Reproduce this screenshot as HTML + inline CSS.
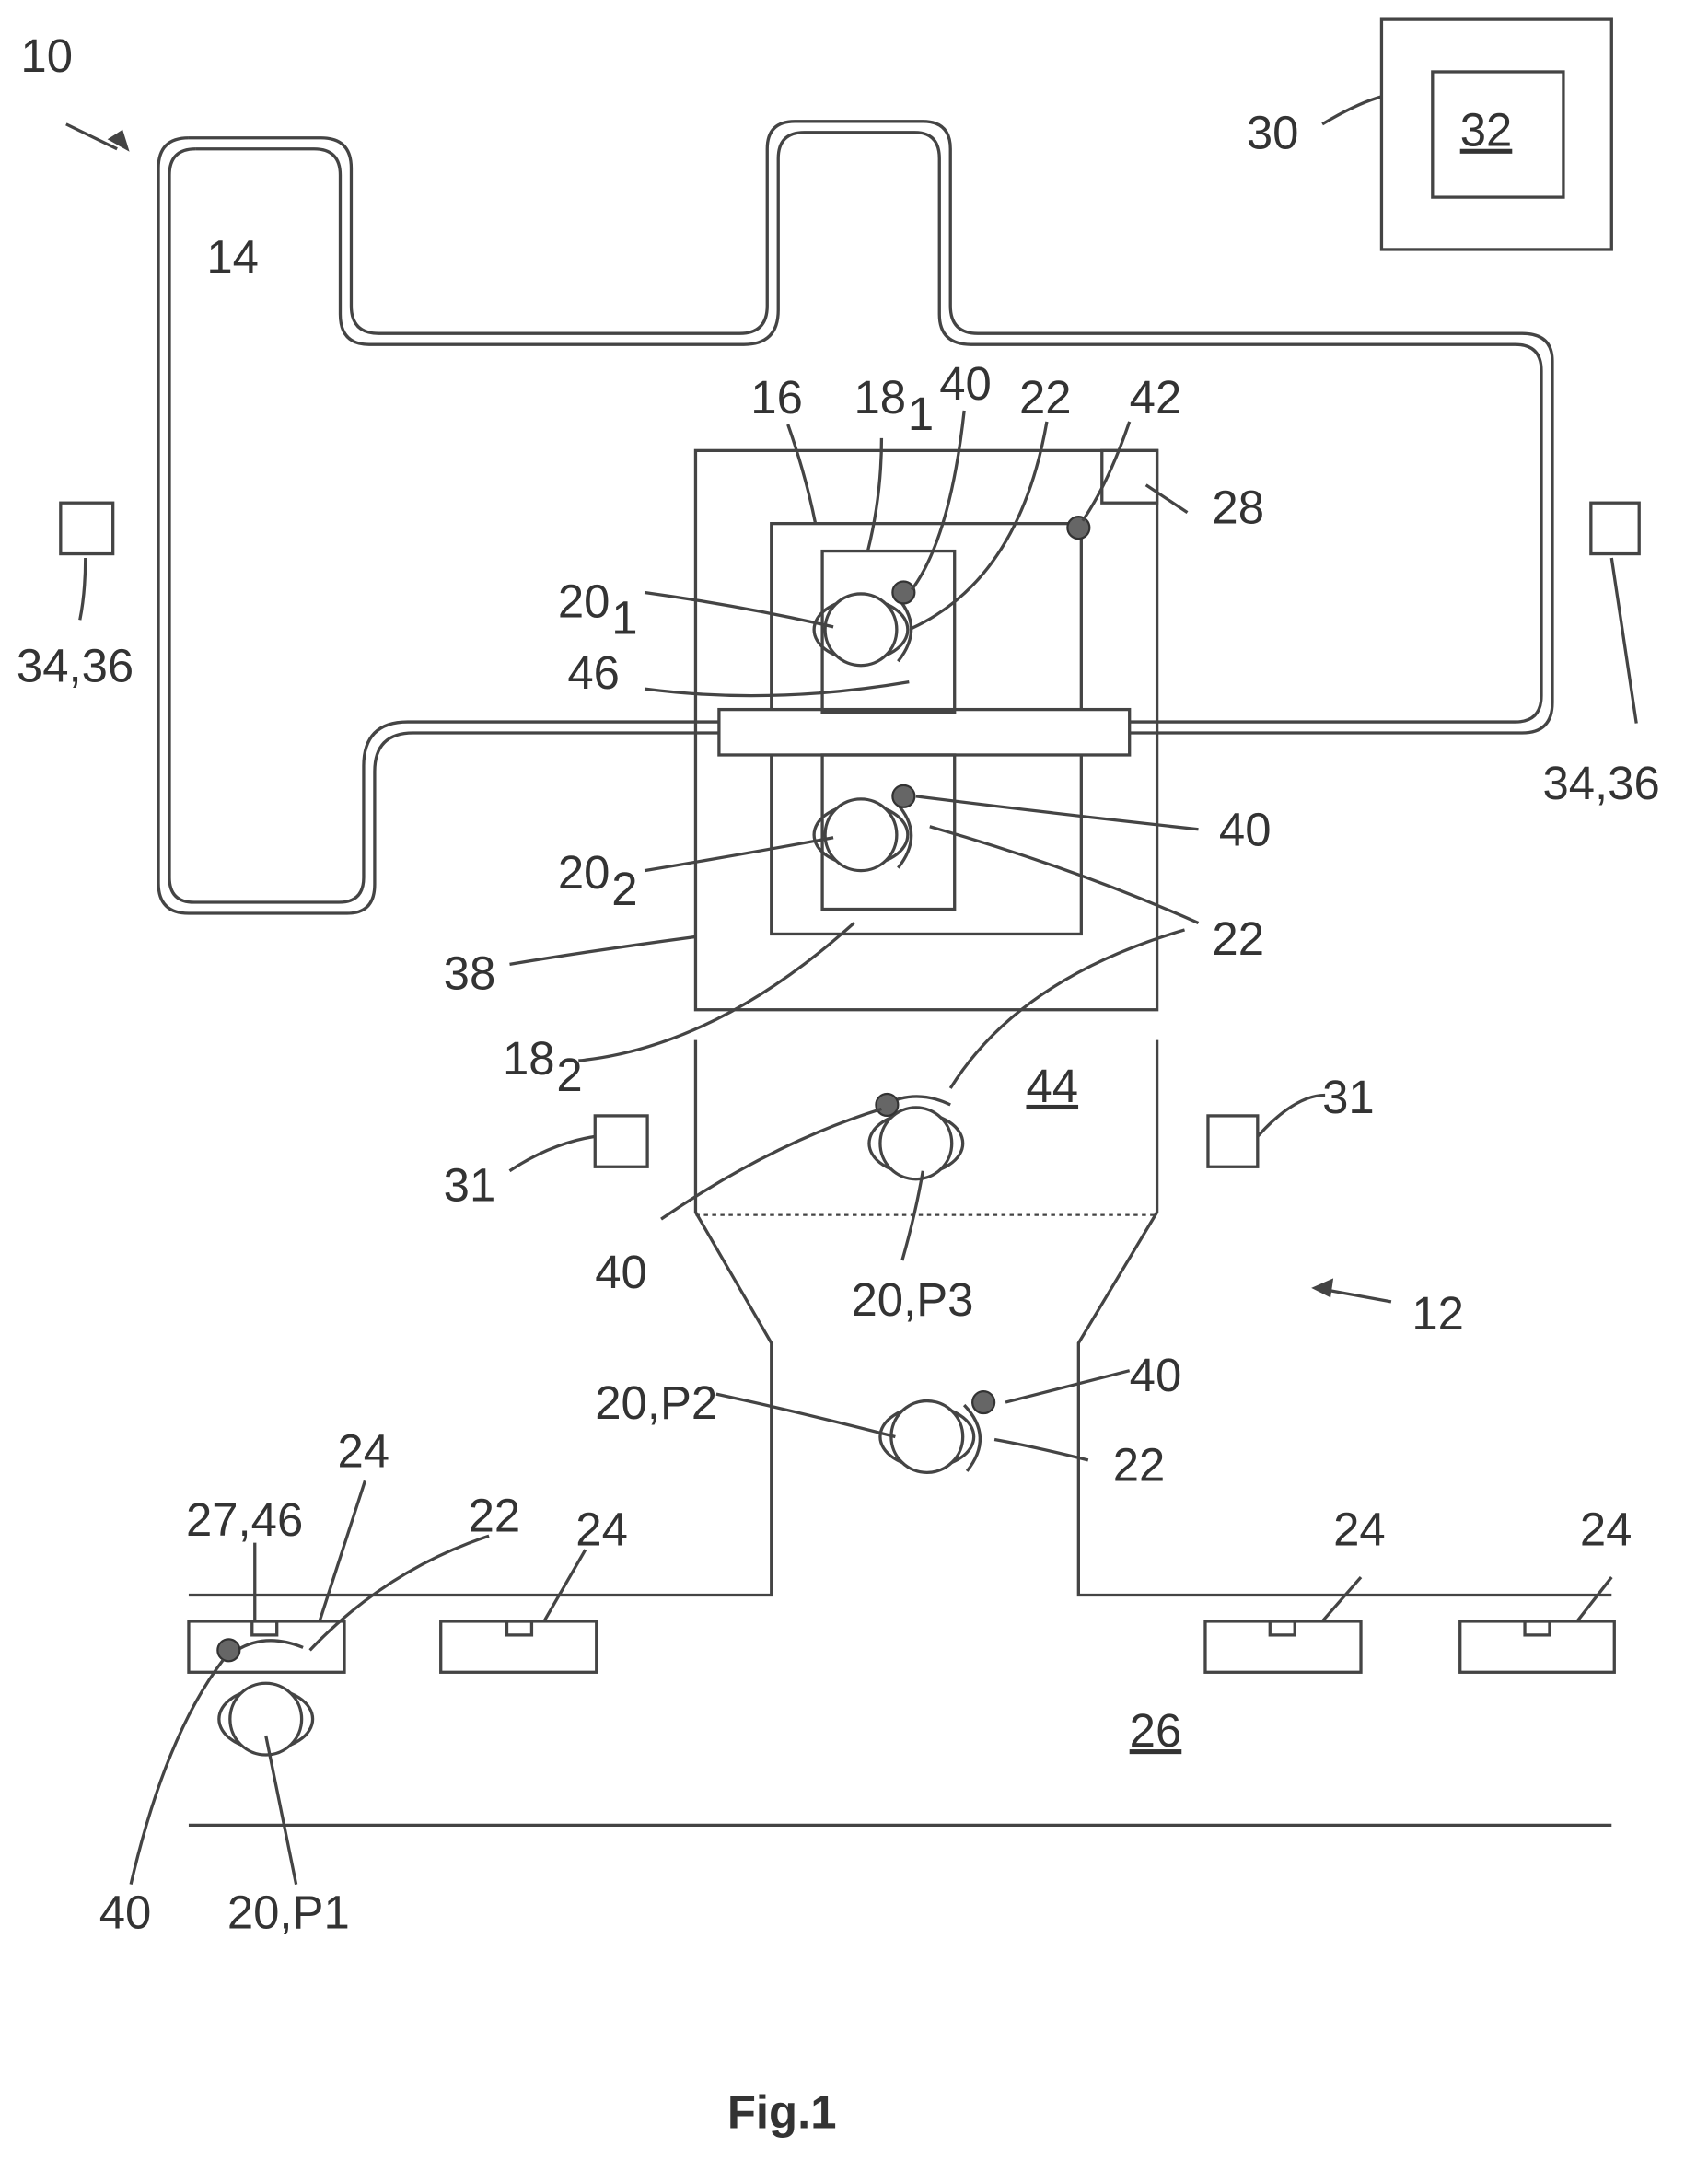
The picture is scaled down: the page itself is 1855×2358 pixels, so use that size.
<!DOCTYPE html>
<html><head><meta charset="utf-8"><style>
html,body{margin:0;padding:0;background:#fff;}
svg{display:block;}
text{font-family:"Liberation Sans",sans-serif;font-size:34px;fill:#333;}
.s{fill:none;stroke:#444;stroke-width:2.2;}
</style></head><body>
<svg width="1855" height="2358" viewBox="0 0 1240 1576" xmlns="http://www.w3.org/2000/svg">
<defs>
<g id="person">
<ellipse cx="0" cy="0" rx="34" ry="22" class="s"/>
<circle cx="0" cy="0" r="26" fill="#fff" stroke="#444" stroke-width="2.2"/>
</g>
<g id="dot"><circle r="8" fill="#666" stroke="#333" stroke-width="1.5"/></g>
</defs>
<path class="s" d="M137,100 H233 Q255,100 255,122 V222 Q255,242 275,242 H537 Q557,242 557,222 V108 Q557,88 577,88 H670 Q690,88 690,108 V222 Q690,242 710,242 H1105 Q1127,242 1127,262 V510 Q1127,532 1105,532 H820"/>
<path class="s" d="M522,532 H300 Q272,532 272,560 V642 Q272,663 252,663 H137 Q115,663 115,641 V122 Q115,100 137,100"/>
<path class="s" d="M142,108 H228 Q247,108 247,127 V228 Q247,250 268,250 H540 Q565,250 565,225 V115 Q565,96 584,96 H664 Q682,96 682,115 V228 Q682,250 705,250 H1100 Q1119,250 1119,269 V505 Q1119,524 1100,524 H820"/>
<path class="s" d="M522,524 H296 Q264,524 264,556 V637 Q264,655 246,655 H141 Q123,655 123,637 V127 Q123,108 142,108"/>
<rect class="s" x="505" y="327" width="335" height="406"/>
<rect class="s" x="560" y="380" width="225" height="298"/>
<rect x="522" y="515" width="298" height="33" fill="#fff" stroke="#444" stroke-width="2.2"/>
<rect class="s" x="597" y="400" width="96" height="117"/>
<rect class="s" x="597" y="548" width="96" height="112"/>
<rect class="s" x="800" y="327" width="40" height="38"/>
<use href="#dot" x="783" y="383"/>
<path class="s" d="M505,755 V880 L560,975 V1158 H137"/>
<path class="s" d="M840,755 V880 L783,975 V1158 H1170"/>
<line x1="505" y1="882" x2="840" y2="882" stroke="#444" stroke-width="1.5" stroke-dasharray="3,3"/>
<line class="s" x1="137" y1="1325" x2="1170" y2="1325"/>
<g class="s">
<rect x="137" y="1177" width="113" height="37"/><rect x="183" y="1177" width="18" height="10"/>
<rect x="320" y="1177" width="113" height="37"/><rect x="368" y="1177" width="18" height="10"/>
<rect x="875" y="1177" width="113" height="37"/><rect x="922" y="1177" width="18" height="10"/>
<rect x="1060" y="1177" width="112" height="37"/><rect x="1107" y="1177" width="18" height="10"/>
<rect x="432" y="810" width="38" height="37"/><rect x="877" y="810" width="36" height="37"/>
<rect x="44" y="365" width="38" height="37"/><rect x="1155" y="365" width="35" height="37"/>
<rect x="1003" y="14" width="167" height="167"/><rect x="1040" y="52" width="95" height="91"/>
</g>
<use href="#person" x="625" y="457"/><path class="s" d="M650,432 Q672,455 652,480"/><use href="#dot" x="656" y="430"/>
<use href="#person" x="625" y="606"/><path class="s" d="M650,582 Q672,605 652,630"/><use href="#dot" x="656" y="578"/>
<use href="#person" x="665" y="830"/><path class="s" d="M642,802 Q665,790 690,802"/><use href="#dot" x="644" y="802"/>
<use href="#person" x="673" y="1043"/><path class="s" d="M700,1020 Q722,1043 702,1068"/><use href="#dot" x="714" y="1018"/>
<use href="#person" x="193" y="1248"/><path class="s" d="M172,1198 Q193,1185 220,1196"/><use href="#dot" x="166" y="1198"/>
<g class="s" stroke-width="1.8">
<path d="M48,90 L85,108"/>
<path d="M960,90 Q985,75 1003,70"/>
<path d="M862,372 L832,352"/>
<path d="M572,308 Q585,345 592,380"/>
<path d="M640,318 Q640,360 630,400"/>
<path d="M700,298 Q690,390 662,428"/>
<path d="M760,306 Q740,420 662,456"/>
<path d="M820,306 Q805,350 786,378"/>
<path d="M468,430 Q540,440 605,455"/>
<path d="M468,500 Q560,512 660,495"/>
<path d="M468,632 Q540,620 605,608"/>
<path d="M870,602 Q760,590 665,578"/>
<path d="M870,670 Q780,630 675,600"/>
<path d="M860,675 Q740,710 690,790"/>
<path d="M370,700 Q430,690 505,680"/>
<path d="M420,770 Q520,760 620,670"/>
<path d="M370,850 Q400,830 432,825"/>
<path d="M913,825 Q940,795 962,795"/>
<path d="M480,885 Q560,830 640,805"/>
<path d="M655,915 Q665,880 670,850"/>
<path d="M520,1012 Q580,1025 650,1043"/>
<path d="M820,995 L730,1018"/>
<path d="M790,1060 Q750,1050 722,1045"/>
<path d="M265,1075 L232,1177"/>
<path d="M185,1120 L185,1177"/>
<path d="M355,1115 Q280,1140 225,1198"/>
<path d="M425,1125 L395,1177"/>
<path d="M988,1145 L960,1177"/>
<path d="M1170,1145 L1145,1177"/>
<path d="M95,1368 Q120,1260 162,1205"/>
<path d="M215,1368 Q205,1320 193,1260"/>
<path d="M62,405 Q62,430 58,450"/>
<path d="M1170,405 Q1180,470 1188,525"/>
<path d="M1010,945 L955,935"/>
</g>
<path d="M94,110 L78,101 L89,94 Z" fill="#444"/>
<path d="M952,935 L968,928 L966,942 Z" fill="#444"/>
<text x="15" y="52">10</text>
<text x="150" y="198">14</text>
<text x="905" y="108">30</text>
<text x="1060" y="106" text-decoration="underline">32</text>
<text x="545" y="300">16</text>
<text x="620" y="300">18</text><text x="659" y="312" font-size="22">1</text>
<text x="682" y="290">40</text>
<text x="740" y="300">22</text>
<text x="820" y="300">42</text>
<text x="880" y="380">28</text>
<text x="405" y="448">20</text><text x="444" y="460" font-size="22">1</text>
<text x="412" y="500">46</text>
<text x="12" y="495">34,36</text>
<text x="1120" y="580">34,36</text>
<text x="405" y="645">20</text><text x="444" y="657" font-size="22">2</text>
<text x="885" y="614">40</text>
<text x="880" y="693">22</text>
<text x="322" y="718">38</text>
<text x="365" y="780">18</text><text x="404" y="792" font-size="22">2</text>
<text x="745" y="800" text-decoration="underline">44</text>
<text x="960" y="808">31</text>
<text x="322" y="872">31</text>
<text x="432" y="935">40</text>
<text x="618" y="955">20,P3</text>
<text x="1025" y="965">12</text>
<text x="820" y="1010">40</text>
<text x="432" y="1030">20,P2</text>
<text x="808" y="1075">22</text>
<text x="245" y="1065">24</text>
<text x="135" y="1115">27,46</text>
<text x="340" y="1112">22</text>
<text x="418" y="1122">24</text>
<text x="968" y="1122">24</text>
<text x="1147" y="1122">24</text>
<text x="820" y="1268" text-decoration="underline">26</text>
<text x="72" y="1400">40</text>
<text x="165" y="1400">20,P1</text>
<text x="528" y="1545" font-weight="bold" font-size="40">Fig.1</text>
</svg>
</body></html>
